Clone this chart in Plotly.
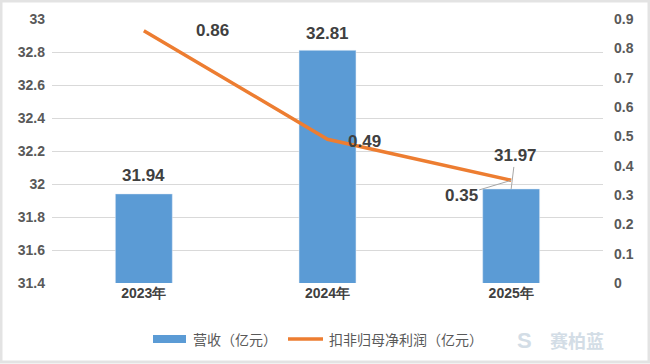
import plotly.graph_objects as go

years = ["2023年", "2024年", "2025年"]
revenue = [31.94, 32.81, 31.97]
profit = [0.86, 0.49, 0.35]
left_ticks = [31.4, 31.6, 31.8, 32.0, 32.2, 32.4, 32.6, 32.8, 33.0]
right_ticks = [0, 0.1, 0.2, 0.3, 0.4, 0.5, 0.6, 0.7, 0.8, 0.9]
series_names = ["营收（亿元）", "扣非归母净利润（亿元）"]

BLUE = "#5B9BD5"
ORANGE = "#ED7D31"
TXT = "#404040"
TICK = "#595959"
FONT = "Liberation Sans, Arial, sans-serif"
CJK = "Noto Sans CJK SC, sans-serif"

fig = go.Figure()
fig.add_trace(go.Bar(x=years, y=revenue, name=series_names[0], marker_color=BLUE,
                     width=0.31, yaxis="y", showlegend=False, hoverinfo="skip"))
fig.add_trace(go.Scatter(x=years, y=profit, name=series_names[1], mode="lines",
                         line=dict(color=ORANGE, width=3.5), yaxis="y2", showlegend=False,
                         hoverinfo="skip"))

lab = dict(family=FONT, size=17, color=TXT, weight="bold")
ann = []
# bar labels
ann.append(dict(x=years[0], y=revenue[0], xref="x", yref="y", text=f"{revenue[0]:.2f}",
                showarrow=False, yshift=18, font=lab))
ann.append(dict(x=years[1], y=revenue[1], xref="x", yref="y", text=f"{revenue[1]:.2f}",
                showarrow=False, yshift=17, font=lab))
ann.append(dict(x=years[2], y=revenue[2], xref="x", yref="y", text=f"{revenue[2]:.2f}",
                showarrow=True, arrowhead=0, arrowwidth=1, arrowcolor="#a6a6a6",
                ax=4, ay=-33, font=lab))
# line labels
ann.append(dict(x=years[0], y=profit[0], xref="x", yref="y2", text=f"{profit[0]:.2f}",
                showarrow=False, xshift=69, yshift=0, font=lab))
ann.append(dict(x=years[1], y=profit[1], xref="x", yref="y2", text=f"{profit[1]:.2f}",
                showarrow=False, xshift=37, yshift=-2, font=lab))
ann.append(dict(x=years[2], y=profit[2], xref="x", yref="y2", text=f"{profit[2]:.2f}",
                showarrow=True, arrowhead=0, arrowwidth=1, arrowcolor="#a6a6a6",
                ax=-50, ay=15, font=lab))

# custom legend (wide swatches like the original)
W, H = 551.0, 264.0
def px(xp):
    return (xp - 52) / W
def py(yp):
    return (283 - yp) / H

leg_font = dict(family=CJK, size=14, color=TICK)
ann.append(dict(x=px(191), y=py(339), xref="paper", yref="paper", xanchor="left",
                yanchor="middle", text=series_names[0], showarrow=False, font=leg_font))
ann.append(dict(x=px(327), y=py(339), xref="paper", yref="paper", xanchor="left",
                yanchor="middle", text=series_names[1], showarrow=False, font=leg_font))
# watermark
ann.append(dict(x=px(548), y=py(340), xref="paper", yref="paper", xanchor="left",
                yanchor="middle", text="赛柏蓝", showarrow=False,
                font=dict(family=CJK, size=18, color="#d3dde6", weight="bold")))
ann.append(dict(x=px(515), y=py(340), xref="paper", yref="paper", xanchor="left",
                yanchor="middle", text="S", showarrow=False,
                font=dict(family=FONT, size=22, color="#d3dde6", weight="bold")))

shapes = [
    dict(type="rect", xref="paper", yref="paper", x0=px(153), x1=px(186),
         y0=py(343), y1=py(335), fillcolor=BLUE, line=dict(width=0)),
    dict(type="line", xref="paper", yref="paper", x0=px(288), x1=px(323),
         y0=py(339), y1=py(339), line=dict(color=ORANGE, width=3.5)),
    dict(type="rect", xref="paper", yref="paper", x0=px(1), x1=px(649),
         y0=py(362), y1=py(1), line=dict(color="#e3e3e3", width=3)),
]

fig.update_layout(
    width=650, height=364,
    margin=dict(l=52, r=47, t=19, b=81),
    paper_bgcolor="white", plot_bgcolor="white",
    bargap=0.69,
    showlegend=False,
    hovermode=False,
    xaxis=dict(showgrid=False, showline=False, ticks="",
               tickfont=dict(family=FONT, size=14, color=TXT, weight="bold")),
    yaxis=dict(range=[31.4, 33.0], tickvals=left_ticks, showgrid=True, gridcolor="#d9d9d9",
               gridwidth=1, zeroline=False, showline=False, ticks="",
               tickfont=dict(family=FONT, size=14, color=TICK, weight="bold"),
               ticklabelstandoff=6, tickformat="~g"),
    yaxis2=dict(range=[0, 0.9], tickvals=right_ticks, overlaying="y", side="right",
                showgrid=False, zeroline=False, showline=False, ticks="",
                tickfont=dict(family=FONT, size=14, color=TICK, weight="bold"),
                ticklabelstandoff=10, tickformat="~g"),
    annotations=ann,
    shapes=shapes,
)

fig.write_html("out.html", config={"displayModeBar": False},
               post_script="document.body.style.margin='0';")
